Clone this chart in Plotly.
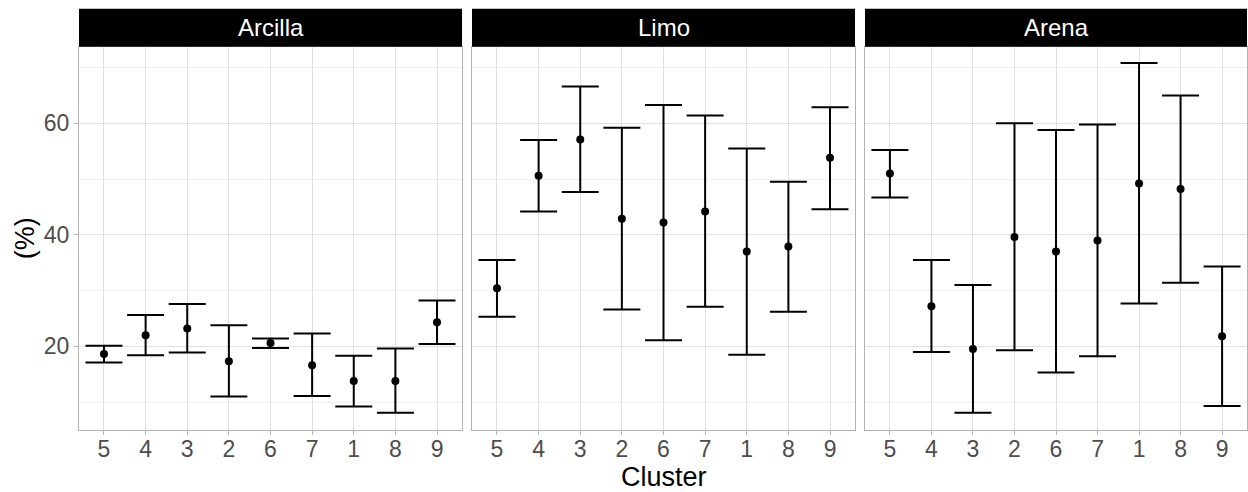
import plotly.graph_objects as go

# Cluster order along the x axis
clusters = ["5", "4", "3", "2", "6", "7", "1", "8", "9"]
facets = ["Arcilla", "Limo", "Arena"]

# Mean and interval bounds (%) per cluster, one set per soil fraction
arcilla_mean = [18.6, 22.0, 23.2, 17.3, 20.6, 16.6, 13.8, 13.8, 24.3]
arcilla_low = [17.1, 18.4, 18.9, 11.0, 19.7, 11.1, 9.2, 8.1, 20.4]
arcilla_high = [20.1, 25.6, 27.6, 23.8, 21.4, 22.3, 18.3, 19.6, 28.2]

limo_mean = [30.4, 50.6, 57.1, 42.9, 42.2, 44.2, 37.0, 37.9, 53.8]
limo_low = [25.3, 44.2, 47.7, 26.6, 21.1, 27.1, 18.5, 26.2, 44.6]
limo_high = [35.5, 57.0, 66.6, 59.2, 63.3, 61.4, 55.5, 49.5, 62.9]

arena_mean = [51.0, 27.2, 19.5, 39.6, 37.0, 39.0, 49.2, 48.2, 21.8]
arena_low = [46.7, 19.0, 8.1, 19.3, 15.3, 18.2, 27.7, 31.4, 9.3]
arena_high = [55.2, 35.5, 31.0, 60.0, 58.8, 59.8, 70.8, 65.0, 34.3]

y_ticks = [20, 40, 60]

series = [
    (arcilla_mean, arcilla_low, arcilla_high),
    (limo_mean, limo_low, limo_high),
    (arena_mean, arena_low, arena_high),
]

W, H = 1248, 492
# panel extents in pixels
panel_x = [(79, 462), (472, 855), (865, 1247)]
panel_top, panel_bottom = 46.7, 430
strip_top = 8.7

FONT = "Liberation Sans, Arial, sans-serif"
tick_font = dict(family=FONT, size=23, color="#4D4D4D")
grid_major = "#E0E0E0"
grid_minor = "#F0F0F0"
border = "#B3B3B3"

fig = go.Figure()
layout = {}
shapes = []
annotations = []

for i, (name, (mean, low, high)) in enumerate(zip(facets, series)):
    n = i + 1
    xa = "x" if n == 1 else f"x{n}"
    ya = "y" if n == 1 else f"y{n}"
    fig.add_trace(
        go.Scatter(
            x=clusters,
            y=mean,
            mode="markers",
            marker=dict(color="black", size=8),
            error_y=dict(
                type="data",
                symmetric=False,
                array=[h - m for h, m in zip(high, mean)],
                arrayminus=[m - l for m, l in zip(mean, low)],
                color="black",
                thickness=2,
                width=18.5,
            ),
            xaxis=xa,
            yaxis=ya,
            showlegend=False,
        )
    )
    x0, x1 = panel_x[i]
    dom_x = [x0 / W, x1 / W]
    dom_y = [1 - panel_bottom / H, 1 - panel_top / H]
    layout["xaxis" if n == 1 else f"xaxis{n}"] = dict(
        domain=dom_x,
        anchor=ya,
        type="category",
        categoryorder="array",
        categoryarray=clusters,
        range=[-0.6, len(clusters) - 0.4],
        showgrid=True,
        gridcolor=grid_major,
        gridwidth=1,
        showline=True,
        mirror=True,
        linecolor=border,
        linewidth=1,
        ticks="outside",
        ticklen=4,
        tickcolor=border,
        tickfont=tick_font,
        ticklabelstandoff=-6,
        zeroline=False,
        fixedrange=True,
    )
    layout["yaxis" if n == 1 else f"yaxis{n}"] = dict(
        domain=dom_y,
        anchor=xa,
        range=[4.99, 73.74],
        tickvals=y_ticks,
        ticktext=[str(v) for v in y_ticks],
        showticklabels=(n == 1),
        showgrid=True,
        gridcolor=grid_major,
        gridwidth=1,
        minor=dict(tickvals=[10, 30, 50, 70], showgrid=True, gridcolor=grid_minor, gridwidth=1, ticks=""),
        showline=True,
        mirror=True,
        linecolor=border,
        linewidth=1,
        ticks="outside" if n == 1 else "",
        ticklen=4,
        tickcolor=border,
        tickfont=tick_font,
        zeroline=False,
        fixedrange=True,
    )
    # facet strip
    shapes.append(
        dict(
            type="rect",
            xref="paper",
            yref="paper",
            x0=x0 / W,
            x1=x1 / W,
            y0=1 - panel_top / H,
            y1=1 - strip_top / H,
            fillcolor="black",
            line=dict(width=0),
            layer="above",
        )
    )
    annotations.append(
        dict(
            text=name,
            xref="paper",
            yref="paper",
            x=(x0 + x1) / 2 / W,
            y=1 - (strip_top + panel_top) / 2 / H,
            showarrow=False,
            xanchor="center",
            yanchor="middle",
            font=dict(family=FONT, size=24, color="white"),
        )
    )

annotations.append(
    dict(
        text="Cluster",
        xref="paper",
        yref="paper",
        x=(panel_x[1][0] + panel_x[1][1]) / 2 / W,
        y=1 - 477 / H,
        showarrow=False,
        xanchor="center",
        yanchor="middle",
        font=dict(family=FONT, size=27, color="black"),
    )
)
annotations.append(
    dict(
        text="(%)",
        xref="paper",
        yref="paper",
        x=25 / W,
        y=1 - (panel_top + panel_bottom) / 2 / H,
        showarrow=False,
        textangle=-90,
        xanchor="center",
        yanchor="middle",
        font=dict(family=FONT, size=27, color="black"),
    )
)

fig.update_layout(
    **layout,
    width=W,
    height=H,
    margin=dict(l=0, r=0, t=0, b=0),
    paper_bgcolor="white",
    plot_bgcolor="white",
    shapes=shapes,
    annotations=annotations,
)

fig.write_html("out.html", config={"displayModeBar": False})
